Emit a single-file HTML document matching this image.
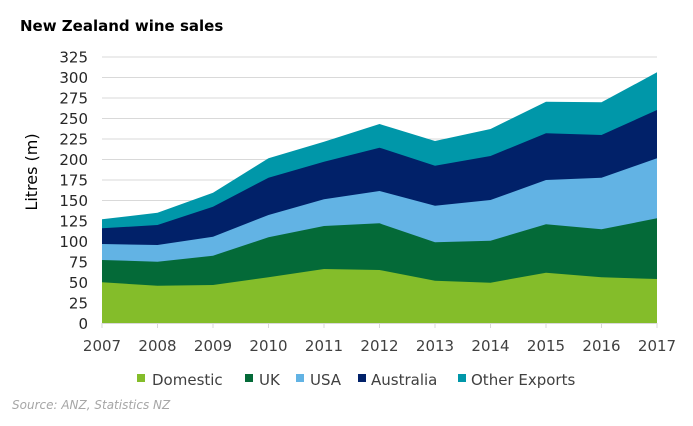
<!DOCTYPE html>
<html><head><meta charset="utf-8"><style>
body{margin:0;width:693px;height:422px;background:#fff;overflow:hidden;font-family:"DejaVu Sans",sans-serif}
</style></head><body>
<svg width="693" height="422" xmlns="http://www.w3.org/2000/svg" font-family="DejaVu Sans, sans-serif">
<text x="20" y="31" font-size="15" font-weight="bold" fill="#000">New Zealand wine sales</text>
<g stroke="#d9d9d9" stroke-width="1">
<line x1="102" x2="657" y1="57" y2="57"/><line x1="102" x2="657" y1="77.5" y2="77.5"/><line x1="102" x2="657" y1="98" y2="98"/><line x1="102" x2="657" y1="118.5" y2="118.5"/><line x1="102" x2="657" y1="139" y2="139"/><line x1="102" x2="657" y1="159.5" y2="159.5"/><line x1="102" x2="657" y1="180" y2="180"/><line x1="102" x2="657" y1="200.5" y2="200.5"/><line x1="102" x2="657" y1="221" y2="221"/><line x1="102" x2="657" y1="241.5" y2="241.5"/><line x1="102" x2="657" y1="262" y2="262"/><line x1="102" x2="657" y1="282.5" y2="282.5"/><line x1="102" x2="657" y1="303" y2="303"/>
</g>
<polygon fill="#0097a9" points="102,219.3 157.5,212.7 213,192.7 268.5,158.3 324,141.7 379.5,124 435,141 490.5,129 546,101.7 601.5,102.3 657,72.3 657,323 102,323"/>
<polygon fill="#012169" points="102,228.3 157.5,225 213,206.7 268.5,177.7 324,161.7 379.5,147.7 435,165.7 490.5,156 546,133.3 601.5,135 657,110 657,323 102,323"/>
<polygon fill="#62b3e4" points="102,244 157.5,245 213,236.7 268.5,215 324,199.3 379.5,191 435,205.7 490.5,200 546,180 601.5,177.7 657,158.3 657,323 102,323"/>
<polygon fill="#046a38" points="102,260 157.5,261.7 213,255.7 268.5,237.3 324,226 379.5,223.3 435,242.3 490.5,240.7 546,224.3 601.5,229.3 657,218.3 657,323 102,323"/>
<polygon fill="#84bd2a" points="102,282.3 157.5,285.7 213,285 268.5,277.3 324,269 379.5,270 435,280.7 490.5,282.7 546,272.7 601.5,277.3 657,279 657,323 102,323"/>
<line x1="102" x2="657" y1="323.5" y2="323.5" stroke="#d9d9d9"/>
<g stroke="#d9d9d9"><line x1="102" x2="102" y1="323" y2="328"/><line x1="157.5" x2="157.5" y1="323" y2="328"/><line x1="213" x2="213" y1="323" y2="328"/><line x1="268.5" x2="268.5" y1="323" y2="328"/><line x1="324" x2="324" y1="323" y2="328"/><line x1="379.5" x2="379.5" y1="323" y2="328"/><line x1="435" x2="435" y1="323" y2="328"/><line x1="490.5" x2="490.5" y1="323" y2="328"/><line x1="546" x2="546" y1="323" y2="328"/><line x1="601.5" x2="601.5" y1="323" y2="328"/><line x1="657" x2="657" y1="323" y2="328"/></g>
<g font-size="15" fill="#262626" text-anchor="end">
<text x="88" y="62.5">325</text><text x="88" y="83">300</text><text x="88" y="103.5">275</text><text x="88" y="124">250</text><text x="88" y="144.5">225</text><text x="88" y="165">200</text><text x="88" y="185.5">175</text><text x="88" y="206">150</text><text x="88" y="226.5">125</text><text x="88" y="247">100</text><text x="88" y="267.5">75</text><text x="88" y="288">50</text><text x="88" y="308.5">25</text><text x="88" y="329">0</text>
</g>
<g font-size="15" fill="#404040" text-anchor="middle">
<text x="102" y="351">2007</text><text x="157.5" y="351">2008</text><text x="213" y="351">2009</text><text x="268.5" y="351">2010</text><text x="324" y="351">2011</text><text x="379.5" y="351">2012</text><text x="435" y="351">2013</text><text x="490.5" y="351">2014</text><text x="546" y="351">2015</text><text x="601.5" y="351">2016</text><text x="657" y="351">2017</text>
</g>
<text transform="translate(37,172) rotate(-90)" font-size="16" fill="#000" text-anchor="middle">Litres (m)</text>
<g font-size="15" fill="#404040">
<rect x="137" y="374" width="8" height="8" fill="#84bd2a"/><text x="152" y="385">Domestic</text>
<rect x="245" y="374" width="8" height="8" fill="#046a38"/><text x="259" y="385">UK</text>
<rect x="296" y="374" width="8" height="8" fill="#62b3e4"/><text x="310" y="385">USA</text>
<rect x="358" y="374" width="8" height="8" fill="#012169"/><text x="371" y="385">Australia</text>
<rect x="458" y="374" width="8" height="8" fill="#0097a9"/><text x="471" y="385">Other Exports</text>
</g>
<text x="12" y="409" font-size="12" font-style="italic" fill="#a6a6a6">Source: ANZ, Statistics NZ</text>
</svg>
</body></html>
